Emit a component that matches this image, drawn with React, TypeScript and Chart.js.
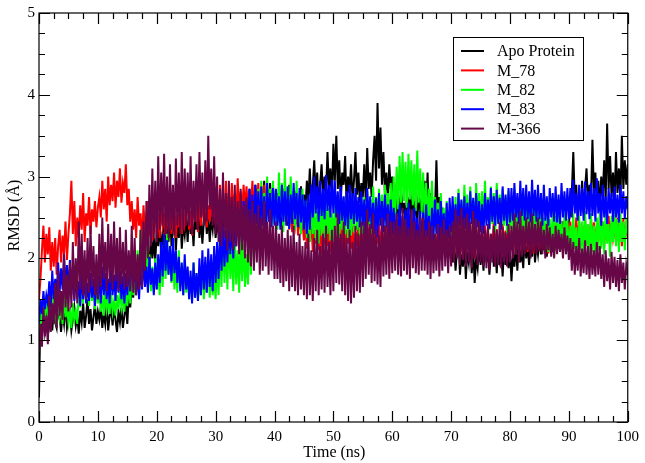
import React, { useEffect, useRef } from "react";
import { Chart, registerables } from "chart.js";

Chart.register(...registerables);

const TIME_STEP_NS = 0.25;
const X_TICKS = [0, 10, 20, 30, 40, 50, 60, 70, 80, 90, 100];
const Y_TICKS = [0, 1, 2, 3, 4, 5];
const SERIES_NAMES = ["Apo Protein", "M_78", "M_82", "M_83", "M-366"];
const SERIES_COLORS = ["#000000", "#ff0000", "#00ff00", "#0000ff", "rgb(103,7,72)"];

const APO = [0.30,
  1.40, 1.20, 1.32, 1.10, 1.25, 1.45, 1.18, 1.30, 1.12, 1.38,
  1.22, 1.15, 1.42, 1.28, 1.10, 1.33, 1.20, 1.48, 1.15, 1.27,
  1.35, 1.12, 1.25, 1.40, 1.18, 1.30, 1.08, 1.36, 1.22, 1.45,
  1.15, 1.30, 1.50, 1.20, 1.38, 1.12, 1.28, 1.44, 1.20, 1.35,
  1.25, 1.40, 1.15, 1.32, 1.20, 1.45, 1.12, 1.30, 1.38, 1.18,
  1.42, 1.25, 1.10, 1.35, 1.22, 1.40, 1.15, 1.30, 1.45, 1.20,
  1.55, 1.40, 1.70, 1.52, 1.80, 1.62, 1.95, 1.70, 1.85, 2.05,
  1.78, 2.20, 1.90, 2.10, 1.85, 2.30, 2.00, 2.25, 1.95, 2.35,
  2.15, 2.45, 2.05, 2.30, 2.55, 2.10, 2.40, 2.20, 2.60, 2.15,
  2.35, 2.50, 2.10, 2.45, 2.25, 2.55, 2.12, 2.40, 2.28, 2.50,
  2.20, 2.60, 2.30, 2.45, 2.15, 2.55, 2.35, 2.65, 2.25, 2.50,
  2.18, 2.45, 2.60, 2.30, 2.52, 2.20, 2.48, 2.35, 2.58, 2.25,
  2.45, 2.30, 2.62, 2.25, 2.50, 2.38, 2.70, 2.28, 2.55, 2.40,
  2.65, 2.30, 2.48, 2.72, 2.35, 2.58, 2.25, 2.62, 2.42, 2.55,
  2.70, 2.45, 2.85, 2.55, 2.75, 2.48, 2.90, 2.60, 2.78, 2.50,
  2.88, 2.62, 2.95, 2.55, 2.80, 2.65, 2.92, 2.58, 2.85, 2.70,
  2.55, 2.80, 2.45, 2.72, 2.38, 2.85, 2.52, 2.68, 2.40, 2.90,
  2.60, 2.75, 2.48, 2.82, 2.42, 2.70, 2.55, 2.88, 2.50, 2.78,
  2.60, 2.95, 2.70, 3.10, 2.65, 2.88, 3.20, 2.75, 3.05, 2.62,
  2.90, 3.15, 2.72, 3.00, 2.80, 3.30, 2.85, 3.10, 2.70, 3.40,
  2.95, 3.50, 2.85, 3.20, 2.70, 3.05, 2.90, 3.25, 2.65, 3.00,
  2.80, 3.15, 2.72, 2.95, 3.30, 2.78, 3.05, 2.68, 2.92, 2.75,
  3.15, 2.70, 3.35, 2.85, 3.05, 2.75, 3.20, 3.50, 2.95, 3.90,
  3.10, 3.60, 2.90, 3.30, 2.80, 3.05, 2.72, 3.15, 2.85, 3.00,
  2.70, 2.90, 2.50, 2.78, 2.42, 2.85, 2.55, 2.68, 2.38, 2.80,
  2.60, 2.75, 2.45, 2.88, 2.52, 2.70, 2.40, 2.82, 2.58, 2.72,
  2.50, 2.95, 2.60, 3.05, 2.45, 2.80, 2.40, 2.70, 2.55, 3.20,
  2.50, 2.75, 2.30, 2.62, 2.40, 2.55, 2.20, 2.45, 2.10, 2.30,
  1.95, 2.20, 1.85, 2.10, 2.25, 1.80, 2.05, 1.90, 2.18, 1.75,
  2.08, 1.95, 2.22, 1.82, 2.12, 1.70, 2.00, 1.88, 2.15, 1.92,
  2.10, 1.85, 2.25, 1.95, 2.15, 1.80, 2.05, 2.28, 1.90, 2.12,
  1.82, 2.20, 1.98, 2.08, 1.78, 2.15, 1.92, 2.25, 1.88, 2.10,
  1.72, 2.05, 1.90, 2.18, 1.85, 2.25, 1.95, 2.10, 1.88, 2.28,
  2.00, 2.15, 1.92, 2.22, 2.02, 2.30, 1.95, 2.18, 2.05, 2.25,
  2.05, 2.30, 2.10, 2.35, 2.02, 2.25, 2.15, 2.38, 2.08, 2.30,
  2.18, 2.40, 2.12, 2.35, 2.20, 2.45, 2.15, 2.38, 2.25, 2.45,
  2.55, 2.80, 3.30, 2.70, 2.90, 2.50, 2.75, 2.60, 2.95, 2.55,
  2.85, 3.10, 2.65, 2.90, 2.70, 3.45, 2.80, 3.05, 2.65, 2.95,
  2.60, 3.00, 2.75, 3.20, 2.70, 3.65, 2.85, 3.25, 2.75, 3.05,
  2.68, 3.30, 2.80, 3.10, 2.70, 3.50, 2.85, 3.20, 2.90, 3.15];

const M78 = [1.50,
  1.75, 2.10, 2.40, 1.95, 2.30, 2.05, 2.38, 1.85, 2.20, 1.90,
  2.25, 1.80, 2.15, 2.35, 1.95, 2.28, 2.05, 2.45, 1.98, 2.30,
  2.55, 2.95, 2.30, 2.70, 2.15, 2.50, 2.25, 2.65, 2.35, 2.80,
  2.20, 2.55, 2.40, 2.75, 2.30, 2.60, 2.45, 2.70, 2.38, 2.62,
  2.75, 2.50, 2.95, 2.60, 2.85, 2.45, 3.00, 2.65, 2.90, 2.70,
  3.05, 2.62, 2.95, 2.75, 3.10, 2.68, 2.92, 2.80, 3.15, 2.65,
  2.85, 2.45, 2.70, 2.35, 2.60, 2.25, 2.75, 2.40, 2.55, 2.20,
  2.65, 2.35, 2.50, 2.70, 2.28, 2.58, 2.22, 2.48, 2.65, 2.30,
  2.55, 2.25, 2.68, 2.40, 2.52, 2.28, 2.72, 2.35, 2.60, 2.30,
  2.50, 2.65, 2.25, 2.55, 2.38, 2.70, 2.30, 2.62, 2.42, 2.55,
  2.68, 2.35, 2.58, 2.28, 2.75, 2.45, 2.62, 2.32, 2.80, 2.40,
  2.70, 2.50, 2.85, 2.38, 2.65, 2.45, 2.88, 2.50, 2.72, 2.42,
  2.75, 2.40, 2.90, 2.55, 2.72, 2.45, 2.95, 2.52, 2.80, 2.48,
  2.92, 2.60, 2.78, 2.50, 2.98, 2.58, 2.82, 2.55, 2.90, 2.60,
  2.88, 2.55, 2.80, 2.62, 2.95, 2.58, 2.85, 2.65, 2.92, 2.60,
  2.82, 2.55, 2.90, 2.62, 2.78, 2.52, 2.85, 2.58, 2.80, 2.50,
  2.72, 2.45, 2.85, 2.50, 2.70, 2.40, 2.78, 2.45, 2.62, 2.35,
  2.68, 2.32, 2.55, 2.40, 2.60, 2.28, 2.50, 2.35, 2.45, 2.22,
  2.42, 2.12, 2.38, 2.20, 2.48, 2.08, 2.35, 2.18, 2.45, 2.10,
  2.40, 2.05, 2.32, 2.22, 2.50, 2.15, 2.38, 2.08, 2.45, 2.12,
  2.38, 2.05, 2.30, 2.20, 2.48, 2.10, 2.42, 2.02, 2.35, 2.18,
  2.52, 2.12, 2.40, 2.05, 2.32, 2.15, 2.45, 2.08, 2.38, 2.12,
  2.45, 2.10, 2.38, 2.22, 2.50, 2.15, 2.35, 2.05, 2.42, 2.18,
  2.48, 2.10, 2.36, 2.05, 2.40, 2.20, 2.52, 2.12, 2.38, 2.15,
  2.42, 2.08, 2.35, 2.02, 2.45, 2.15, 2.38, 2.10, 2.33, 2.00,
  2.42, 2.12, 2.36, 2.05, 2.45, 2.18, 2.32, 2.08, 2.40, 2.02,
  2.38, 2.10, 2.30, 2.05, 2.35, 2.12, 2.45, 2.00, 2.30, 2.08,
  2.40, 2.05, 2.32, 2.10, 2.38, 2.02, 2.28, 2.12, 2.42, 2.05,
  2.35, 2.02, 2.30, 2.12, 2.40, 2.05, 2.28, 2.00, 2.35, 2.10,
  2.32, 2.05, 2.42, 2.08, 2.30, 2.00, 2.38, 2.12, 2.30, 2.06,
  2.32, 2.05, 2.40, 2.10, 2.35, 2.02, 2.30, 2.12, 2.45, 2.05,
  2.36, 2.10, 2.30, 2.02, 2.42, 2.15, 2.34, 2.06, 2.38, 2.10,
  2.35, 2.10, 2.30, 2.05, 2.42, 2.15, 2.35, 2.05, 2.30, 2.12,
  2.40, 2.08, 2.48, 2.12, 2.34, 2.06, 2.40, 2.15, 2.32, 2.10,
  2.40, 2.15, 2.35, 2.10, 2.45, 2.06, 2.35, 2.15, 2.40, 2.10,
  2.44, 2.12, 2.38, 2.08, 2.46, 2.16, 2.36, 2.10, 2.42, 2.14,
  2.45, 2.15, 2.40, 2.12, 2.50, 2.20, 2.45, 2.15, 2.40, 2.20,
  2.48, 2.16, 2.42, 2.12, 2.50, 2.22, 2.44, 2.18, 2.40, 2.20,
  2.50, 2.20, 2.45, 2.15, 2.42, 2.22, 2.52, 2.16, 2.46, 2.25,
  2.40, 2.18, 2.50, 2.22, 2.44, 2.15, 2.48, 2.20, 2.45, 2.25];

const M82 = [1.00,
  1.35, 1.20, 1.50, 1.28, 1.55, 1.22, 1.45, 1.30, 1.60, 1.25,
  1.40, 1.18, 1.52, 1.30, 1.45, 1.20, 1.55, 1.28, 1.42, 1.22,
  1.38, 1.15, 1.45, 1.25, 1.35, 1.20, 1.60, 1.40, 1.75, 1.45,
  1.90, 1.55, 1.70, 1.42, 1.80, 1.48, 1.65, 1.38, 1.72, 1.45,
  1.60, 1.35, 1.55, 1.30, 1.62, 1.38, 1.50, 1.32, 1.58, 1.35,
  1.48, 1.30, 1.55, 1.38, 1.62, 1.40, 1.52, 1.35, 1.60, 1.42,
  1.68, 1.45, 1.80, 1.55, 1.95, 1.60, 2.10, 1.70, 2.35, 1.80,
  2.15, 1.72, 2.25, 1.65, 2.05, 1.60, 1.90, 1.58, 2.00, 1.62,
  1.85, 1.55, 2.05, 1.65, 2.20, 1.75, 2.30, 1.80, 2.15, 1.70,
  2.05, 1.62, 1.95, 1.58, 2.10, 1.65, 1.90, 1.55, 1.98, 1.58,
  1.85, 1.50, 1.78, 1.55, 1.95, 1.52, 1.82, 1.48, 1.75, 1.55,
  1.90, 1.50, 1.80, 1.58, 1.95, 1.52, 1.85, 1.55, 1.78, 1.50,
  1.95, 1.55, 2.15, 1.65, 2.30, 1.70, 2.20, 1.62, 2.35, 1.75,
  2.15, 1.60, 2.25, 1.68, 2.10, 1.58, 2.28, 1.72, 2.18, 1.65,
  2.05, 1.68, 2.30, 1.80, 2.55, 2.05, 2.70, 2.20, 2.85, 2.30,
  2.95, 2.40, 2.80, 2.35, 3.00, 2.45, 2.85, 2.38, 2.95, 2.42,
  2.80, 2.35, 3.05, 2.50, 2.92, 2.32, 3.10, 2.48, 2.88, 2.38,
  3.00, 2.45, 2.82, 2.35, 2.95, 2.40, 2.78, 2.30, 2.85, 2.35,
  2.70, 2.25, 2.62, 2.20, 2.75, 2.30, 2.65, 2.22, 2.58, 2.18,
  2.70, 2.28, 2.60, 2.25, 2.72, 2.30, 2.62, 2.22, 2.55, 2.20,
  2.65, 2.30, 2.72, 2.25, 2.60, 2.35, 2.75, 2.30, 2.68, 2.25,
  2.62, 2.28, 2.70, 2.32, 2.78, 2.35, 2.65, 2.28, 2.72, 2.30,
  2.75, 2.35, 2.82, 2.40, 2.72, 2.30, 2.88, 2.45, 2.75, 2.38,
  2.85, 2.42, 2.78, 2.35, 2.90, 2.48, 2.80, 2.40, 2.92, 2.45,
  3.00, 2.50, 3.12, 2.60, 3.25, 2.68, 3.30, 2.70, 3.18, 2.62,
  3.28, 2.72, 3.20, 2.65, 3.15, 2.58, 3.32, 2.68, 3.10, 2.55,
  3.05, 2.50, 2.92, 2.42, 2.85, 2.38, 2.95, 2.40, 2.75, 2.32,
  2.68, 2.28, 2.80, 2.35, 2.62, 2.22, 2.70, 2.30, 2.58, 2.20,
  2.62, 2.30, 2.75, 2.35, 2.85, 2.40, 2.70, 2.35, 2.90, 2.45,
  2.78, 2.38, 2.88, 2.42, 2.72, 2.35, 2.92, 2.46, 2.80, 2.40,
  2.82, 2.40, 2.95, 2.45, 2.75, 2.35, 2.88, 2.42, 2.80, 2.32,
  2.92, 2.45, 2.78, 2.38, 2.85, 2.40, 2.75, 2.30, 2.82, 2.36,
  2.70, 2.25, 2.85, 2.30, 2.65, 2.22, 2.80, 2.32, 2.62, 2.20,
  2.75, 2.28, 2.68, 2.24, 2.82, 2.30, 2.65, 2.20, 2.72, 2.25,
  2.55, 2.15, 2.50, 2.10, 2.62, 2.08, 2.48, 2.12, 2.58, 2.02,
  2.52, 2.10, 2.60, 2.15, 2.45, 2.05, 2.55, 2.12, 2.48, 2.05,
  2.40, 2.05, 2.55, 2.12, 2.38, 1.95, 2.52, 2.10, 2.45, 2.00,
  2.58, 2.15, 2.42, 2.05, 2.55, 2.08, 2.40, 2.00, 2.50, 2.10,
  2.55, 2.12, 2.45, 2.05, 2.62, 2.18, 2.42, 2.02, 2.52, 2.20,
  2.60, 2.15, 2.48, 2.08, 2.55, 2.20, 2.45, 2.10, 2.50, 2.30];

const M83 = [1.20,
  1.50, 1.32, 1.60, 1.38, 1.55, 1.45, 1.72, 1.40, 1.85, 1.50,
  1.75, 1.55, 1.95, 1.58, 1.88, 1.62, 2.05, 1.65, 1.92, 1.60,
  1.98, 1.55, 1.88, 1.48, 1.80, 1.52, 1.72, 1.42, 1.85, 1.50,
  1.78, 1.45, 1.70, 1.48, 1.82, 1.52, 1.75, 1.42, 1.85, 1.50,
  1.80, 1.45, 1.90, 1.55, 1.82, 1.50, 1.75, 1.45, 1.88, 1.55,
  1.80, 1.48, 1.92, 1.58, 1.85, 1.50, 1.78, 1.45, 1.82, 1.55,
  1.95, 1.60, 2.05, 1.70, 1.92, 1.55, 1.85, 1.50, 1.95, 1.62,
  2.00, 1.65, 1.90, 1.58, 2.02, 1.68, 1.88, 1.55, 1.95, 1.62,
  2.05, 1.70, 2.20, 1.78, 2.30, 1.85, 2.22, 1.80, 2.15, 1.72,
  2.25, 1.82, 2.10, 1.70, 2.02, 1.60, 1.95, 1.55, 2.05, 1.62,
  1.90, 1.50, 1.85, 1.45, 1.95, 1.52, 1.82, 1.48, 2.00, 1.55,
  2.10, 1.62, 2.02, 1.58, 2.12, 1.65, 2.05, 1.60, 2.15, 1.70,
  2.20, 1.75, 2.32, 1.85, 2.40, 1.90, 2.35, 1.95, 2.48, 2.05,
  2.42, 2.00, 2.55, 2.15, 2.62, 2.20, 2.58, 2.18, 2.70, 2.25,
  2.72, 2.28, 2.85, 2.35, 2.78, 2.30, 2.90, 2.42, 2.82, 2.35,
  2.88, 2.40, 2.76, 2.32, 2.92, 2.45, 2.80, 2.38, 2.86, 2.40,
  2.85, 2.40, 2.76, 2.35, 2.90, 2.45, 2.82, 2.40, 2.88, 2.36,
  2.78, 2.42, 2.92, 2.48, 2.80, 2.38, 2.86, 2.44, 2.78, 2.35,
  2.72, 2.30, 2.78, 2.35, 2.90, 2.50, 3.00, 2.55, 2.88, 2.45,
  2.95, 2.52, 2.85, 2.48, 3.02, 2.58, 2.90, 2.50, 2.96, 2.55,
  2.95, 2.50, 2.82, 2.42, 2.88, 2.46, 2.76, 2.40, 2.82, 2.36,
  2.90, 2.48, 2.80, 2.42, 2.86, 2.45, 2.75, 2.38, 2.82, 2.40,
  2.72, 2.30, 2.86, 2.45, 2.76, 2.36, 2.68, 2.30, 2.74, 2.26,
  2.80, 2.40, 2.70, 2.32, 2.78, 2.38, 2.66, 2.28, 2.72, 2.30,
  2.62, 2.20, 2.56, 2.16, 2.66, 2.26, 2.52, 2.12, 2.60, 2.20,
  2.68, 2.25, 2.55, 2.18, 2.62, 2.22, 2.50, 2.10, 2.58, 2.18,
  2.56, 2.15, 2.66, 2.26, 2.52, 2.12, 2.62, 2.22, 2.72, 2.30,
  2.60, 2.20, 2.70, 2.28, 2.55, 2.18, 2.68, 2.25, 2.74, 2.32,
  2.76, 2.35, 2.66, 2.30, 2.80, 2.40, 2.72, 2.32, 2.76, 2.36,
  2.68, 2.30, 2.82, 2.42, 2.74, 2.34, 2.80, 2.38, 2.70, 2.32,
  2.66, 2.30, 2.80, 2.40, 2.72, 2.36, 2.86, 2.45, 2.76, 2.40,
  2.84, 2.42, 2.74, 2.35, 2.88, 2.46, 2.78, 2.40, 2.86, 2.44,
  2.86, 2.46, 2.92, 2.50, 2.80, 2.42, 2.95, 2.52, 2.86, 2.46,
  2.90, 2.48, 2.82, 2.44, 2.96, 2.52, 2.84, 2.45, 2.90, 2.48,
  2.80, 2.40, 2.90, 2.46, 2.76, 2.40, 2.86, 2.50, 2.80, 2.45,
  2.88, 2.44, 2.78, 2.42, 2.92, 2.50, 2.82, 2.46, 2.86, 2.48,
  2.86, 2.50, 2.96, 2.55, 2.80, 2.46, 2.90, 2.52, 2.86, 2.46,
  2.94, 2.54, 2.82, 2.48, 2.92, 2.52, 2.86, 2.45, 2.98, 2.55,
  2.80, 2.40, 2.90, 2.50, 2.76, 2.42, 2.86, 2.55, 2.80, 2.45,
  2.88, 2.50, 2.78, 2.44, 2.90, 2.55, 2.82, 2.48, 2.76, 2.60];

const M366 = [0.85,
  1.20, 0.92, 1.40, 1.05, 1.30, 0.95, 1.55, 1.10, 1.45, 1.20,
  1.70, 1.15, 1.85, 1.30, 1.60, 1.25, 2.05, 1.40, 1.80, 1.35,
  1.95, 1.40, 2.20, 1.50, 2.00, 1.45, 2.45, 1.62, 2.30, 1.55,
  2.10, 1.50, 2.25, 1.58, 2.40, 1.65, 2.15, 1.55, 2.05, 1.50,
  2.30, 1.65, 2.50, 1.75, 2.20, 1.60, 2.42, 1.70, 2.30, 1.62,
  2.45, 1.72, 2.25, 1.60, 2.38, 1.68, 2.20, 1.62, 2.35, 1.65,
  2.10, 1.60, 2.40, 1.58, 2.25, 1.55, 2.05, 1.62, 2.35, 1.65,
  2.45, 1.85, 2.70, 2.00, 2.90, 2.15, 3.10, 2.25, 2.95, 2.20,
  3.25, 2.35, 3.05, 2.40, 3.28, 2.30, 3.00, 2.25, 3.15, 2.35,
  2.90, 2.28, 3.22, 2.40, 3.05, 2.30, 3.30, 2.35, 3.10, 2.40,
  3.05, 2.40, 3.25, 2.30, 2.95, 2.45, 3.15, 2.35, 3.30, 2.50,
  3.05, 2.40, 3.20, 2.45, 3.50, 2.60, 3.10, 2.40, 3.25, 2.30,
  3.00, 2.20, 2.85, 2.15, 3.05, 2.25, 2.80, 2.10, 2.95, 2.20,
  2.75, 2.10, 2.90, 2.15, 2.70, 2.05, 2.85, 2.10, 2.65, 2.00,
  2.75, 1.95, 2.60, 1.90, 2.70, 1.85, 2.55, 1.95, 2.65, 1.80,
  2.50, 1.85, 2.70, 1.90, 2.45, 1.80, 2.60, 1.85, 2.40, 1.75,
  2.45, 1.75, 2.30, 1.70, 2.40, 1.65, 2.25, 1.72, 2.35, 1.60,
  2.28, 1.65, 2.40, 1.60, 2.20, 1.55, 2.30, 1.62, 2.15, 1.55,
  2.20, 1.50, 2.30, 1.55, 2.10, 1.48, 2.25, 1.60, 2.35, 1.55,
  2.15, 1.62, 2.30, 1.58, 2.40, 1.65, 2.20, 1.55, 2.35, 1.60,
  2.40, 1.70, 2.55, 1.68, 2.30, 1.60, 2.45, 1.55, 2.25, 1.48,
  2.35, 1.45, 2.20, 1.52, 2.40, 1.60, 2.30, 1.58, 2.45, 1.65,
  2.45, 1.75, 2.60, 1.80, 2.42, 1.70, 2.55, 1.72, 2.35, 1.68,
  2.28, 1.65, 2.50, 1.78, 2.40, 1.80, 2.55, 1.75, 2.45, 1.82,
  2.45, 1.85, 2.55, 1.80, 2.40, 1.78, 2.62, 1.85, 2.48, 1.80,
  2.38, 1.75, 2.60, 1.88, 2.45, 1.82, 2.35, 1.80, 2.50, 1.85,
  2.50, 1.85, 2.35, 1.80, 2.45, 1.75, 2.40, 1.82, 2.30, 1.85,
  2.42, 1.78, 2.38, 1.85, 2.48, 1.90, 2.35, 1.82, 2.40, 1.90,
  2.45, 1.95, 2.60, 2.00, 2.52, 1.92, 2.62, 1.98, 2.50, 1.90,
  2.55, 1.95, 2.45, 1.88, 2.58, 2.00, 2.48, 1.92, 2.45, 1.95,
  2.40, 1.90, 2.35, 1.88, 2.42, 1.85, 2.30, 1.95, 2.40, 1.90,
  2.35, 1.92, 2.45, 1.88, 2.38, 1.95, 2.32, 1.90, 2.42, 1.95,
  2.40, 2.00, 2.55, 2.05, 2.45, 1.95, 2.58, 2.02, 2.40, 2.05,
  2.50, 2.10, 2.45, 2.00, 2.55, 2.08, 2.42, 2.05, 2.50, 2.10,
  2.45, 2.05, 2.35, 2.00, 2.42, 2.10, 2.38, 2.02, 2.30, 2.00,
  2.40, 2.05, 2.35, 2.08, 2.30, 2.00, 2.38, 2.05, 2.28, 1.98,
  2.25, 1.85, 2.20, 1.80, 2.15, 1.85, 2.25, 1.78, 2.12, 1.82,
  2.22, 1.80, 2.15, 1.75, 2.18, 1.80, 2.10, 1.78, 2.20, 1.80,
  2.15, 1.75, 2.05, 1.65, 2.10, 1.72, 2.00, 1.62, 2.08, 1.70,
  2.02, 1.65, 1.98, 1.60, 2.05, 1.70, 1.95, 1.62, 1.92, 1.80];

const SERIES_VALUES = [APO, M78, M82, M83, M366];

const FONT = "'Liberation Serif', 'DejaVu Serif', serif";

const framePlugin = {
  id: "xmgraceFrame",
  afterDraw(chart: any) {
    const ctx = chart.ctx;
    const { left, right, top, bottom } = chart.chartArea;
    const xs = chart.scales.x;
    const ys = chart.scales.y;
    ctx.save();
    ctx.strokeStyle = "#000";
    ctx.lineWidth = 1.2;
    ctx.strokeRect(left, top, right - left, bottom - top);
    const major = 11;
    const minor = 6;
    ctx.beginPath();
    for (let v = 0; v <= 100.001; v += 2.5) {
      const isMajor = Math.abs(v / 10 - Math.round(v / 10)) < 1e-6;
      const len = isMajor ? major : minor;
      const px = Math.round(xs.getPixelForValue(v)) + 0.5;
      ctx.moveTo(px, bottom);
      ctx.lineTo(px, bottom - len);
      ctx.moveTo(px, top);
      ctx.lineTo(px, top + len);
    }
    for (let v = 0; v <= 5.001; v += 0.25) {
      const isMajor = Math.abs(v - Math.round(v)) < 1e-6;
      const len = isMajor ? major : minor;
      const py = Math.round(ys.getPixelForValue(v)) + 0.5;
      ctx.moveTo(left, py);
      ctx.lineTo(left + len, py);
      ctx.moveTo(right, py);
      ctx.lineTo(right - len, py);
    }
    ctx.stroke();

    ctx.fillStyle = "#000";
    ctx.font = `16px ${FONT}`;
    ctx.textAlign = "center";
    ctx.textBaseline = "middle";
    ctx.fillText("Time (ns)", (left + right) / 2 + 1, 453);
    ctx.save();
    ctx.translate(15, (top + bottom) / 2 - 2);
    ctx.rotate(-Math.PI / 2);
    ctx.fillText("RMSD (\u00c5)", 0, 0);
    ctx.restore();

    const bx = 453, by = 37, bw = 130, bh = 103;
    ctx.fillStyle = "#fff";
    ctx.fillRect(bx, by, bw, bh);
    ctx.lineWidth = 1;
    ctx.strokeRect(bx + 0.5, by + 0.5, bw, bh);
    ctx.font = `16px ${FONT}`;
    ctx.textAlign = "left";
    ctx.textBaseline = "middle";
    SERIES_NAMES.forEach((name, i) => {
      const y = 51 + i * 19.4;
      ctx.strokeStyle = SERIES_COLORS[i];
      ctx.lineWidth = 2;
      ctx.beginPath();
      ctx.moveTo(461, y);
      ctx.lineTo(484, y);
      ctx.stroke();
      ctx.fillStyle = "#000";
      ctx.fillText(name, 497, y + 1);
    });
    ctx.restore();
  },
};

export default function App() {
  const canvasRef = useRef<HTMLCanvasElement | null>(null);

  useEffect(() => {
    const canvas = canvasRef.current;
    if (!canvas) return;
    const order = [4, 3, 2, 1, 0];
    const datasets = SERIES_NAMES.map((name, i) => ({
      label: name,
      data: SERIES_VALUES[i].map((v, k) => ({ x: k * TIME_STEP_NS, y: v })),
      borderColor: SERIES_COLORS[i],
      backgroundColor: SERIES_COLORS[i],
      borderWidth: 2,
      borderJoinStyle: "miter" as const,
      pointRadius: 0,
      tension: 0,
      fill: false,
      order: order[i],
    }));
    const chart = new Chart(canvas, {
      type: "line",
      data: { datasets },
      options: {
        animation: false,
        responsive: false,
        maintainAspectRatio: false,
        layout: { padding: { top: 8, right: 17, left: 0, bottom: 0 } },
        plugins: { legend: { display: false }, tooltip: { enabled: false } },
        scales: {
          x: {
            type: "linear",
            min: 0,
            max: 100,
            afterFit: (s: any) => { s.height = 41; },
            afterBuildTicks: (s: any) => { s.ticks = X_TICKS.map((v) => ({ value: v })); },
            grid: { display: false, drawTicks: false },
            border: { display: false },
            ticks: { color: "#000", font: { family: FONT, size: 15 }, padding: 6, maxRotation: 0, autoSkip: false },
          },
          y: {
            type: "linear",
            min: 0,
            max: 5,
            afterFit: (s: any) => { s.width = 39; },
            afterBuildTicks: (s: any) => { s.ticks = Y_TICKS.map((v) => ({ value: v })); },
            grid: { display: false, drawTicks: false },
            border: { display: false },
            ticks: { color: "#000", font: { family: FONT, size: 15 }, padding: 4 },
          },
        },
      },
      plugins: [framePlugin],
    });
    return () => chart.destroy();
  }, []);

  return (
    <div style={{ position: "fixed", left: 0, top: 0, width: 645, height: 463, background: "#fff" }}>
      <canvas ref={canvasRef} width={645} height={463} style={{ width: 645, height: 463, display: "block" }} />
    </div>
  );
}
